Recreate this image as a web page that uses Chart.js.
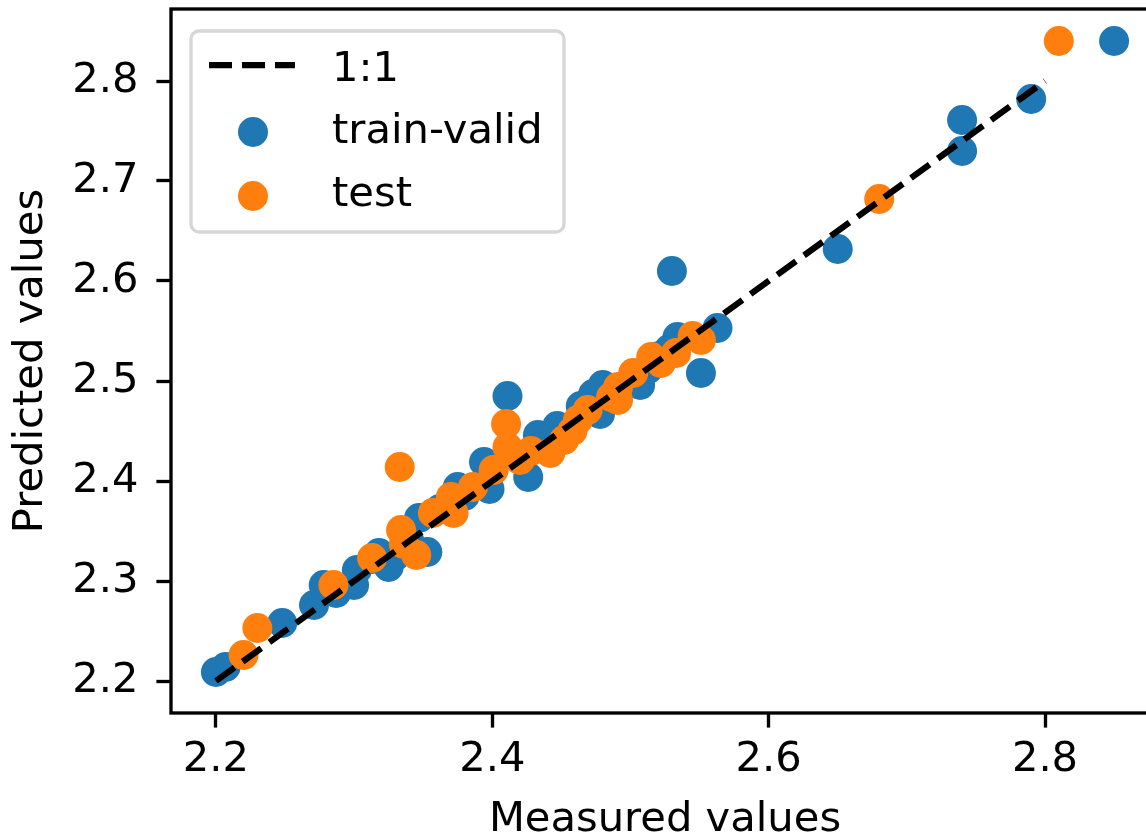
<!DOCTYPE html>
<html>
<head>
<meta charset="utf-8">
<script src="https://cdn.jsdelivr.net/npm/chart.js@4/dist/chart.umd.min.js"></script>
<style>
html, body { margin: 0; padding: 0; background: #fff; overflow: hidden; width: 1146px; height: 839px; }
#wrap { position: absolute; left: 0; top: 0; width: 1161px; height: 839px; }
</style>
</head>
<body>
<div id="wrap"><canvas id="c" width="1161" height="839"></canvas></div>
<script>
// ---- data ----
const trainX = [2.200,2.207,2.248,2.271,2.278,2.287,2.300,2.302,2.313,2.318,2.325,2.330,2.340,2.347,2.353,2.362,2.375,2.380,2.394,2.398,2.411,2.418,2.426,2.433,2.440,2.447,2.452,2.464,2.478,2.473,2.480,2.488,2.500,2.507,2.513,2.521,2.528,2.534,2.530,2.551,2.563,2.650,2.740,2.740,2.790,2.850];
const trainY = [2.209,2.214,2.258,2.276,2.296,2.288,2.296,2.311,2.322,2.328,2.314,2.325,2.340,2.363,2.329,2.372,2.394,2.385,2.419,2.392,2.485,2.425,2.404,2.446,2.440,2.455,2.445,2.475,2.467,2.487,2.496,2.492,2.499,2.496,2.512,2.525,2.532,2.544,2.610,2.508,2.553,2.632,2.761,2.730,2.782,2.840];
const testX = [2.220,2.230,2.285,2.313,2.334,2.333,2.336,2.345,2.357,2.370,2.372,2.386,2.401,2.410,2.411,2.420,2.428,2.442,2.452,2.458,2.462,2.469,2.486,2.491,2.491,2.502,2.515,2.522,2.533,2.545,2.551,2.680,2.810];
const testY = [2.226,2.253,2.296,2.323,2.351,2.414,2.337,2.326,2.368,2.384,2.368,2.394,2.411,2.457,2.434,2.421,2.430,2.428,2.441,2.450,2.461,2.471,2.484,2.494,2.481,2.508,2.524,2.518,2.528,2.545,2.541,2.682,2.840];
const lineX = [2.2, 2.8];
const lineY = [2.2, 2.8];
const xTicks = [2.2, 2.4, 2.6, 2.8];
const yTicks = [2.2, 2.3, 2.4, 2.5, 2.6, 2.7, 2.8];
const labels = ["1:1", "train-valid", "test"];

const BLUE = "#1f77b4", ORANGE = "#ff7f0e";
const FONT = "DejaVu Sans";
const FS = 41.67;
const LW = 3.33;

const toPts = (xs, ys) => xs.map((x, i) => ({x: x, y: ys[i]}));

const framePlugin = {
  id: "frame",
  afterDatasetsDraw(chart) {
    const {ctx, chartArea: a} = chart;
    ctx.save();
    ctx.strokeStyle = "#000";
    ctx.lineWidth = LW;
    ctx.strokeRect(a.left, a.top, a.right - a.left, a.bottom - a.top);
    ctx.restore();
  }
};

const legendPlugin = {
  id: "mplLegend",
  afterDraw(chart) {
    const {ctx, chartArea: a} = chart;
    const ds = chart.data.datasets;
    const x0 = a.left + 20, y0 = a.top + 22, w = 373, h = 201, r = 8;
    ctx.save();
    ctx.beginPath();
    ctx.moveTo(x0 + r, y0);
    ctx.lineTo(x0 + w - r, y0);
    ctx.arcTo(x0 + w, y0, x0 + w, y0 + r, r);
    ctx.lineTo(x0 + w, y0 + h - r);
    ctx.arcTo(x0 + w, y0 + h, x0 + w - r, y0 + h, r);
    ctx.lineTo(x0 + r, y0 + h);
    ctx.arcTo(x0, y0 + h, x0, y0 + h - r, r);
    ctx.lineTo(x0, y0 + r);
    ctx.arcTo(x0, y0, x0 + r, y0, r);
    ctx.closePath();
    ctx.fillStyle = "rgba(255,255,255,0.8)";
    ctx.fill();
    ctx.lineWidth = LW;
    ctx.strokeStyle = "#d6d6d6";
    ctx.stroke();

    const handleY = [y0 + 34, y0 + 101, y0 + 165];
    const baseY = [y0 + 50, y0 + 112, y0 + 175];
    ctx.beginPath();
    ctx.setLineDash([23, 10]);
    ctx.lineWidth = 6.25;
    ctx.strokeStyle = "#000";
    ctx.moveTo(x0 + 18, handleY[0]);
    ctx.lineTo(x0 + 104, handleY[0]);
    ctx.stroke();
    ctx.setLineDash([]);
    [ds[1], ds[2]].forEach((d, i) => {
      ctx.beginPath();
      ctx.fillStyle = d.backgroundColor;
      ctx.arc(x0 + 62, handleY[i + 1], 15, 0, Math.PI * 2);
      ctx.fill();
    });
    ctx.fillStyle = "#000";
    ctx.font = FS + "px '" + FONT + "'";
    ctx.textBaseline = "alphabetic";
    ctx.textAlign = "left";
    ds.forEach((d, i) => ctx.fillText(d.label, x0 + 141, baseY[i]));
    ctx.restore();
  }
};

new Chart(document.getElementById("c"), {
  type: "scatter",
  data: {
    datasets: [
      { label: labels[0], type: "line", data: toPts(lineX, lineY), showLine: true,
        borderColor: "#000", borderWidth: 6.25, borderDash: [23, 10], borderCapStyle: "butt",
        pointRadius: 0, fill: false, order: 0 },
      { label: labels[1], data: toPts(trainX, trainY), backgroundColor: BLUE,
        borderWidth: 0, pointRadius: 15, pointHoverRadius: 15, order: 2 },
      { label: labels[2], data: toPts(testX, testY), backgroundColor: ORANGE,
        borderWidth: 0, pointRadius: 15, pointHoverRadius: 15, order: 1 }
    ]
  },
  options: {
    responsive: false,
    devicePixelRatio: 1,
    animation: false,
    layout: { autoPadding: false, padding: { left: 0, top: 9, right: 2, bottom: 0 } },
    plugins: { legend: { display: false }, tooltip: { enabled: false } },
    scales: {
      x: {
        type: "linear", min: 2.1675, max: 2.8825,
        afterFit(s) { s.height = 126; s.paddingLeft = 0; s.paddingRight = 0; },
        afterBuildTicks(s) { s.ticks = xTicks.map(v => ({value: v})); },
        grid: { display: true, drawOnChartArea: false, drawTicks: true, tickLength: 14.6, tickWidth: LW, tickColor: "#000" },
        border: { display: false },
        ticks: { color: "#000", font: { family: FONT, size: FS }, padding: 8, maxRotation: 0,
                 callback: v => v.toFixed(1) },
        title: { display: true, text: "Measured values", color: "#000",
                 font: { family: FONT, size: FS, lineHeight: 1 }, padding: { top: 0, bottom: -2 } }
      },
      y: {
        type: "linear", min: 2.168, max: 2.872,
        afterFit(s) { s.width = 171; s.paddingTop = 0; s.paddingBottom = 0; },
        afterBuildTicks(s) { s.ticks = yTicks.map(v => ({value: v})); },
        grid: { display: true, drawOnChartArea: false, drawTicks: true, tickLength: 14.6, tickWidth: LW, tickColor: "#000" },
        border: { display: false },
        ticks: { color: "#000", font: { family: FONT, size: FS }, padding: 18,
                 callback: v => v.toFixed(1) },
        title: { display: true, text: "Predicted values", color: "#000",
                 font: { family: FONT, size: FS, lineHeight: 1 }, padding: { top: 10, bottom: 0 } }
      }
    }
  },
  plugins: [framePlugin, legendPlugin]
});
</script>
</body>
</html>
